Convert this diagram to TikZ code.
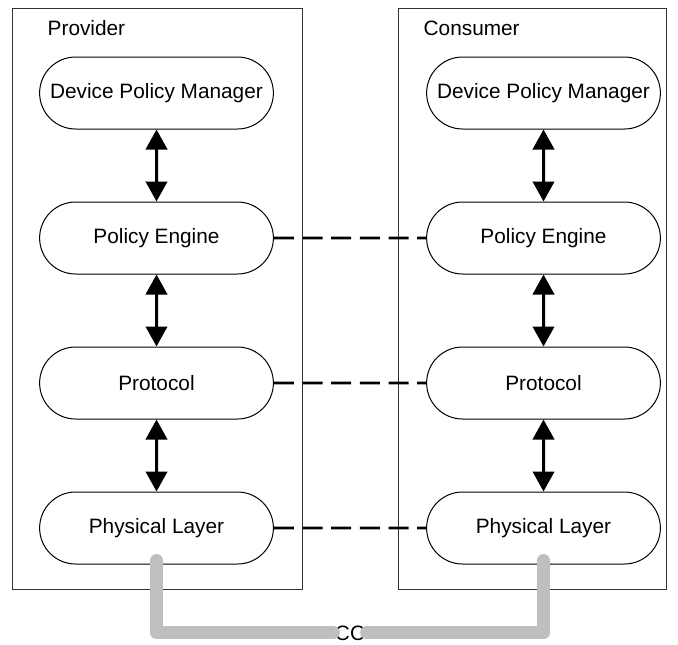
\documentclass[tikz,border=0pt]{standalone}
\usepackage{fontspec}
\setmainfont{Liberation Sans}
\usetikzlibrary{arrows.meta,shapes.misc}
\tikzstyle{layer}=[%
	rounded rectangle, draw, line width = 0.75pt,
	minimum width = 182pt, minimum height = 54pt,
	font = \fontsize{15.6}{18}\selectfont
]
\tikzstyle{updown}=[%
	line width = 2.25pt,
	{Triangle[length=15pt, width=16pt]}-{Triangle[length=15pt, width=16pt]}
]
\tikzstyle{link}=[%
	line width = 1.9pt,
	dash pattern = on 15pt off 6.5pt
]
\tikzstyle{ccline}=[%
	line width = 9.75pt, color = black!25,
	line cap = round, line join = round
]

\begin{document}
\begin{tikzpicture}[x=0.75pt, y=-0.75pt]
	\useasboundingbox (0,0) rectangle (678,644);

	% Frames
	\draw[line width=0.75pt, black!80] (12,8) rectangle (302,589);
	\draw[line width=0.75pt, black!80] (398,8) rectangle (666,589);
	\node[anchor=west, font=\fontsize{15.6}{18}\selectfont] (prov) at (43,28) {Provider};
	\node[anchor=west, font=\fontsize{15.6}{18}\selectfont] (cons) at (419,28) {Consumer};

	% Layers
	\foreach \n/\t/\y in {dpm/Device Policy Manager/93, pe/Policy Engine/238, pr/Protocol/383, pl/Physical Layer/528} {
		\node[layer] (\n1) at (156.5,\y) {\t};
		\node[layer] (\n2) at (543.5,\y) {\t};
	}

	% Arrows
	\foreach \a/\b in {dpm/pe, pe/pr, pr/pl} {
		\draw[updown] (\a1) -- (\b1);
		\draw[updown] (\a2) -- (\b2);
	}

	% Peer links
	\foreach \n in {pe, pr, pl} {
		\draw[link] (\n1) -- (\n2);
	}

	% CC wire
	\node[anchor=base, inner sep=1pt, font=\fontsize{15.6}{18}\selectfont] (cc) at (350,640) {CC};
	\draw[ccline] ([yshift=3pt]pl1.south) |- (cc.west);
	\draw[ccline] (cc.east) -| ([yshift=3pt]pl2.south);

\end{tikzpicture}
\end{document}
